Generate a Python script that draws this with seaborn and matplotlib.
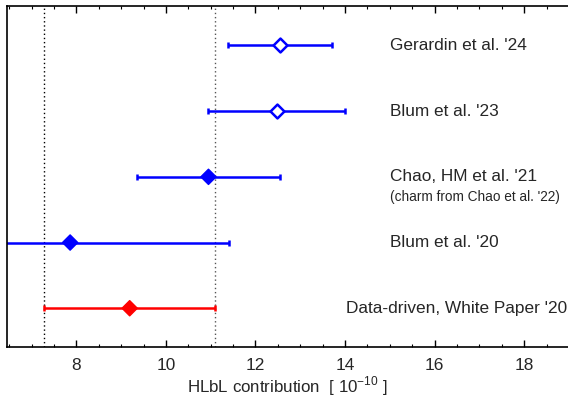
import matplotlib
matplotlib.use("Agg")
import matplotlib.pyplot as plt
import seaborn as sns
import pandas as pd
import numpy as np
from matplotlib.ticker import MultipleLocator

labels = ["Gerardin et al. '24", "Blum et al. '23", "Chao, HM et al. '21",
          "Blum et al. '20", "Data-driven, White Paper '20"]
values = [12.55, 12.47, 10.95, 7.86, 9.19]
errors = [1.17, 1.52, 1.60, 3.54, 1.91]
ypos = [5, 4, 3, 2, 1]
filled = [False, False, True, True, True]
colors = ["#0000ff", "#0000ff", "#0000ff", "#0000ff", "#ff0000"]
band = [7.28, 11.10]

sns.set_style("ticks")
plt.rcParams['font.family'] = ['Liberation Sans', 'DejaVu Sans']
plt.rcParams['mathtext.fontset'] = 'custom'
plt.rcParams['mathtext.rm'] = 'Liberation Sans'

fig = plt.figure(figsize=(5.68, 4.01), dpi=100)
ax = fig.add_axes([7/568, 1-347/401, 561/568, 341/401])

df = pd.DataFrame({"label": labels, "value": values, "err": errors, "y": ypos,
                   "filled": filled, "color": colors})

ax.axvline(band[0], color="black", ls=(0, (1, 2)), lw=1.0, zorder=1)
ax.axvline(band[1], color="#555555", ls=(0, (1, 2)), lw=1.0, zorder=1)

for _, r in df.iterrows():
    ax.errorbar(r["value"], r["y"], xerr=r["err"], fmt="none", ecolor=r["color"],
                elinewidth=1.8, capsize=2.5, capthick=1.8, zorder=2)

sub_f = df[df["filled"]]
sub_o = df[~df["filled"]]
sns.scatterplot(data=sub_f, x="value", y="y", hue="label",
                palette=dict(zip(sub_f["label"], sub_f["color"])),
                marker="D", s=60, edgecolor=sub_f["color"].tolist(), linewidth=1,
                legend=False, ax=ax, zorder=3)
sns.scatterplot(data=sub_o, x="value", y="y", marker="D", s=50,
                facecolors="white", edgecolor="#0000ff", linewidth=1.8,
                legend=False, ax=ax, zorder=3)

for _, r in df.iterrows():
    if r["y"] > 1:
        ax.text(15.0, r["y"], r["label"], fontsize=12.4, va="center", ha="left")
    else:
        ax.text(18.96, r["y"], r["label"], fontsize=12.4, va="center", ha="right")
ax.text(15.0, 2.7, "(charm from Chao et al. '22)", fontsize=9.8, va="center", ha="left")

ax.set_xlim(6.45, 18.98)
ax.set_ylim(0.41, 5.6)
ax.set_yticks([])
ax.set_ylabel("")
ax.xaxis.set_major_locator(MultipleLocator(2))
ax.xaxis.set_minor_locator(MultipleLocator(0.5))
ax.tick_params(axis="x", which="both", direction="in", top=True, bottom=True,
               labelsize=12.4, color="black")
ax.tick_params(axis="x", which="major", length=5, width=1, pad=8)
ax.tick_params(axis="x", which="minor", length=2.5, width=0.8)
ax.set_xlabel("HLbL contribution  [ 10$^{\\mathrm{-10}}$ ]", fontsize=12.2, labelpad=1)
for s in ax.spines.values():
    s.set_linewidth(1.2)
    s.set_color("black")
ax.spines["right"].set_visible(False)

fig.savefig("out.png", dpi=100)
